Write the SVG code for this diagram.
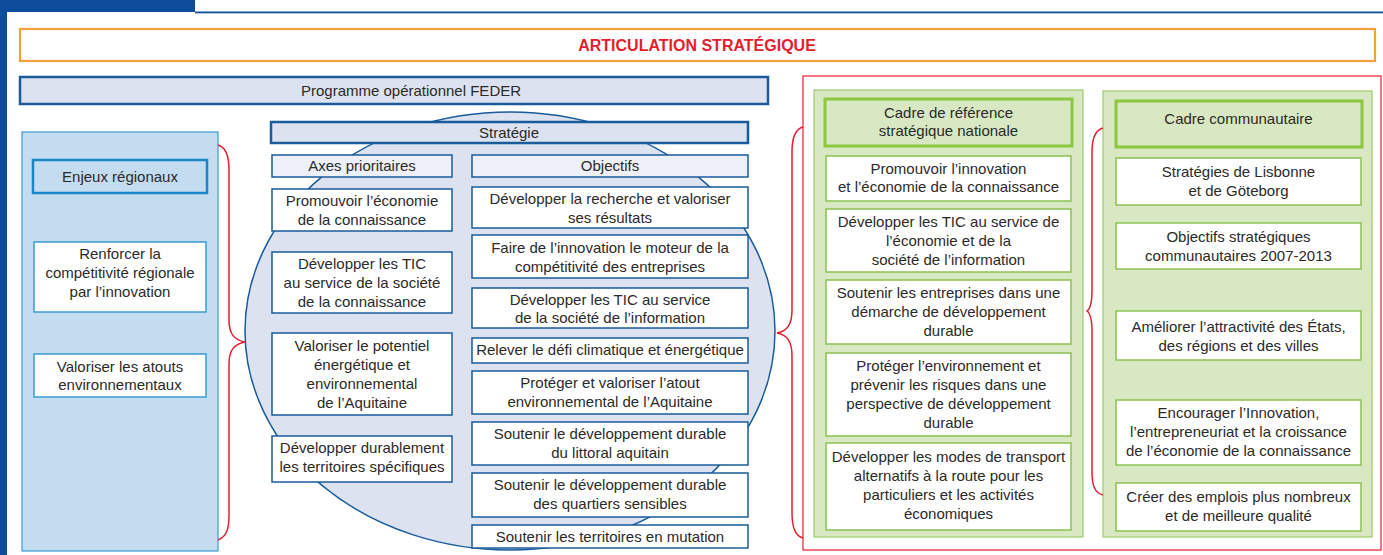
<svg xmlns="http://www.w3.org/2000/svg" width="1383" height="555" viewBox="0 0 1383 555">
<style>
.t{font-family:"Liberation Sans",Arial,sans-serif;font-size:15px;fill:#2b2a29;text-anchor:middle}
.title{font-family:"Liberation Sans",Arial,sans-serif;font-size:16px;font-weight:bold;fill:#e31f2d;text-anchor:middle}
.bx{fill:#fff;stroke:#1a5b9b;stroke-width:1.5}
.hd{fill:#dde2f0;stroke:#1a5b9b;stroke-width:2.5}
.sub{fill:#edf0f8;stroke:#1a5b9b;stroke-width:1.5}
.lb{fill:#fff;stroke:#3b9bd4;stroke-width:1.5}
.gb{fill:#fff;stroke:#8cc152;stroke-width:1.5}
.gh{fill:#d8e8c3;stroke:#8dc63f;stroke-width:3}
.gc{fill:#d8e8c3;stroke:#9ccb6a;stroke-width:1.2}
.brace{fill:none;stroke:#e31f2d;stroke-width:1.5}
</style>
<rect x="0" y="0" width="1383" height="555" fill="#fff"/>
<g id="frame">
<rect x="0" y="0" width="195" height="12" fill="#0d4c9b"/>
<rect x="0" y="0" width="7" height="555" fill="#0d4c9b"/>
<rect x="195" y="11.5" width="1188" height="1.8" fill="#0d4c9b"/>
</g>
<g id="titre">
<rect x="20" y="29" width="1355" height="32" fill="#fff" stroke="#f6a03a" stroke-width="2.2"/>
<text class="title" x="697" y="51">ARTICULATION STRATÉGIQUE</text>
</g>
<g id="programme">
<rect class="hd" x="20" y="77" width="748" height="27"/>
<text class="t" x="411" y="95.5">Programme opérationnel FEDER</text>
</g>
<g id="cadres-box">
<rect x="803" y="76" width="578" height="474" fill="#fff" stroke="#e31f2d" stroke-width="1.2"/>
</g>
<g id="enjeux">
<rect x="22" y="132" width="196" height="419" fill="#c4dcef" stroke="#3b9bd4" stroke-width="1.2"/>
<rect x="33" y="160" width="174" height="33" fill="#c4dcef" stroke="#1b87c6" stroke-width="2.5"/>
<text class="t" x="120" y="181.5">Enjeux régionaux</text>
</g>
<g id="enjeu-1">
<rect class="lb" x="34" y="242" width="172" height="70"/>
<text class="t" x="120" y="259"><tspan x="120">Renforcer la</tspan><tspan x="120" y="278">compétitivité régionale</tspan><tspan x="120" y="297">par l’innovation</tspan></text>
</g>
<g id="enjeu-2">
<rect class="lb" x="34" y="354" width="172" height="43"/>
<text class="t" x="120" y="372"><tspan x="120">Valoriser les atouts</tspan><tspan x="120" y="390">environnementaux</tspan></text>
</g>
<g id="strategie">
<ellipse cx="510" cy="331" rx="265" ry="219" fill="#dde2f0" stroke="#1a5b9b" stroke-width="1.5"/>
<rect class="hd" x="271" y="122" width="477" height="21"/>
<text class="t" x="509" y="138">Stratégie</text>
</g>
<g id="axes">
<rect class="sub" x="272" y="155" width="180" height="22"/>
<text class="t" x="362" y="171">Axes prioritaires</text>
</g>
<g id="objectifs">
<rect class="sub" x="472" y="155" width="276" height="22"/>
<text class="t" x="610" y="171">Objectifs</text>
</g>
<g id="axe-1">
<rect class="bx" x="272" y="189" width="180" height="42"/>
<text class="t" x="362" y="206"><tspan x="362">Promouvoir l’économie</tspan><tspan x="362" y="225">de la connaissance</tspan></text>
</g>
<g id="axe-2">
<rect class="bx" x="272" y="252" width="180" height="61"/>
<text class="t" x="362" y="269"><tspan x="362">Développer les TIC</tspan><tspan x="362" y="288">au service de la société</tspan><tspan x="362" y="307">de la connaissance</tspan></text>
</g>
<g id="axe-3">
<rect class="bx" x="272" y="333" width="180" height="82"/>
<text class="t" x="362" y="351"><tspan x="362">Valoriser le potentiel</tspan><tspan x="362" y="370">énergétique et</tspan><tspan x="362" y="389">environnemental</tspan><tspan x="362" y="408">de l’Aquitaine</tspan></text>
</g>
<g id="axe-4">
<rect class="bx" x="272" y="436" width="180" height="46"/>
<text class="t" x="362" y="453"><tspan x="362">Développer durablement</tspan><tspan x="362" y="472">les territoires spécifiques</tspan></text>
</g>
<g id="obj-1">
<rect class="bx" x="472" y="187" width="276" height="41"/>
<text class="t" x="610" y="204"><tspan x="610">Développer la recherche et valoriser</tspan><tspan x="610" y="223">ses résultats</tspan></text>
</g>
<g id="obj-2">
<rect class="bx" x="472" y="235" width="276" height="43"/>
<text class="t" x="610" y="253"><tspan x="610">Faire de l’innovation le moteur de la</tspan><tspan x="610" y="272">compétitivité des entreprises</tspan></text>
</g>
<g id="obj-3">
<rect class="bx" x="472" y="288" width="276" height="40"/>
<text class="t" x="610" y="305"><tspan x="610">Développer les TIC au service</tspan><tspan x="610" y="323">de la société de l’information</tspan></text>
</g>
<g id="obj-4">
<rect class="bx" x="472" y="338" width="276" height="25"/>
<text class="t" x="610" y="355">Relever le défi climatique et énergétique</text>
</g>
<g id="obj-5">
<rect class="bx" x="472" y="371" width="276" height="43"/>
<text class="t" x="610" y="388"><tspan x="610">Protéger et valoriser l’atout</tspan><tspan x="610" y="407">environnemental de l’Aquitaine</tspan></text>
</g>
<g id="obj-6">
<rect class="bx" x="472" y="422" width="276" height="43"/>
<text class="t" x="610" y="439"><tspan x="610">Soutenir le développement durable</tspan><tspan x="610" y="458">du littoral aquitain</tspan></text>
</g>
<g id="obj-7">
<rect class="bx" x="472" y="473" width="276" height="44"/>
<text class="t" x="610" y="490"><tspan x="610">Soutenir le développement durable</tspan><tspan x="610" y="509">des quartiers sensibles</tspan></text>
</g>
<g id="obj-8">
<rect class="bx" x="472" y="525" width="276" height="23"/>
<text class="t" x="610" y="542">Soutenir les territoires en mutation</text>
</g>
<g id="cadre-national">
<rect class="gc" x="814" y="90" width="269" height="447"/>
<rect class="gh" x="825" y="99" width="247" height="47"/>
<text class="t" x="948.5" y="118"><tspan x="948.5">Cadre de référence</tspan><tspan x="948.5" y="136">stratégique nationale</tspan></text>
</g>
<g id="nat-1">
<rect class="gb" x="826" y="156" width="245" height="45"/>
<text class="t" x="948.5" y="174"><tspan x="948.5">Promouvoir l’innovation</tspan><tspan x="948.5" y="192">et l’économie de la connaissance</tspan></text>
</g>
<g id="nat-2">
<rect class="gb" x="826" y="209" width="245" height="63"/>
<text class="t" x="948.5" y="227"><tspan x="948.5">Développer les TIC au service de</tspan><tspan x="948.5" y="246">l’économie et de la</tspan><tspan x="948.5" y="265">société de l’information</tspan></text>
</g>
<g id="nat-3">
<rect class="gb" x="826" y="280" width="245" height="64"/>
<text class="t" x="948.5" y="298"><tspan x="948.5">Soutenir les entreprises dans une</tspan><tspan x="948.5" y="317">démarche de développement</tspan><tspan x="948.5" y="336">durable</tspan></text>
</g>
<g id="nat-4">
<rect class="gb" x="826" y="353" width="245" height="83"/>
<text class="t" x="948.5" y="371"><tspan x="948.5">Protéger l’environnement et</tspan><tspan x="948.5" y="390">prévenir les risques dans une</tspan><tspan x="948.5" y="409">perspective de développement</tspan><tspan x="948.5" y="428">durable</tspan></text>
</g>
<g id="nat-5">
<rect class="gb" x="826" y="443" width="245" height="87"/>
<text class="t" x="948.5" y="462"><tspan x="948.5">Développer les modes de transport</tspan><tspan x="948.5" y="481">alternatifs à la route pour les</tspan><tspan x="948.5" y="500">particuliers et les activités</tspan><tspan x="948.5" y="519">économiques</tspan></text>
</g>
<g id="cadre-communautaire">
<rect class="gc" x="1103" y="91" width="269" height="446"/>
<rect class="gh" x="1116" y="101" width="246" height="46"/>
<text class="t" x="1238.5" y="124">Cadre communautaire</text>
</g>
<g id="com-1">
<rect class="gb" x="1116" y="158" width="245" height="47"/>
<text class="t" x="1238.5" y="177"><tspan x="1238.5">Stratégies de Lisbonne</tspan><tspan x="1238.5" y="196">et de Göteborg</tspan></text>
</g>
<g id="com-2">
<rect class="gb" x="1116" y="223" width="245" height="46"/>
<text class="t" x="1238.5" y="242"><tspan x="1238.5">Objectifs stratégiques</tspan><tspan x="1238.5" y="261">communautaires 2007-2013</tspan></text>
</g>
<g id="com-3">
<rect class="gb" x="1116" y="311" width="245" height="49"/>
<text class="t" x="1238.5" y="332"><tspan x="1238.5">Améliorer l’attractivité des États,</tspan><tspan x="1238.5" y="351">des régions et des villes</tspan></text>
</g>
<g id="com-4">
<rect class="gb" x="1116" y="400" width="245" height="65"/>
<text class="t" x="1238.5" y="418"><tspan x="1238.5">Encourager l’Innovation,</tspan><tspan x="1238.5" y="437">l’entrepreneuriat et la croissance</tspan><tspan x="1238.5" y="456">de l’économie de la connaissance</tspan></text>
</g>
<g id="com-5">
<rect class="gb" x="1116" y="483" width="245" height="48"/>
<text class="t" x="1238.5" y="502"><tspan x="1238.5">Créer des emplois plus nombreux</tspan><tspan x="1238.5" y="521">et de meilleure qualité</tspan></text>
</g>
<g id="connectors">
<path class="brace" d="M218,145 C226,147 229,155 229,170 L229,320 C229,335 235,340 245,342 C235,344 229,349 229,364 L229,515 C229,530 226,537 218,540"/>
<path class="brace" d="M803,127 C795,129 792,137 792,152 L792,310 C792,325 787,331 777,333 C787,335 792,341 792,356 L792,513 C792,528 795,536 803,538"/>
<path class="brace" d="M1103,128 C1095,130 1092,138 1092,152 L1092,290 C1092,303 1090,309 1087,311 C1090,313 1092,319 1092,332 L1092,472 C1092,486 1095,493 1103,495"/>
</g>
</svg>
